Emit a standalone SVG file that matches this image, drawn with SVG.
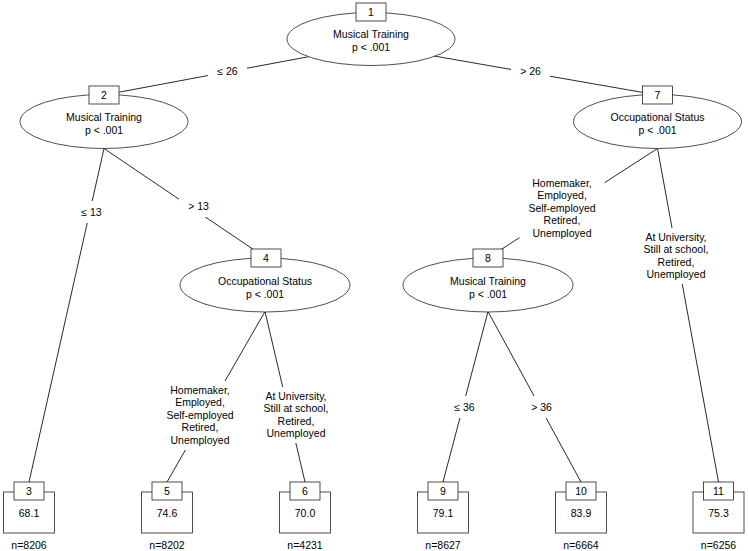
<svg xmlns="http://www.w3.org/2000/svg" width="748" height="551" viewBox="0 0 748 551">
<style>
text{font-family:"Liberation Sans",Arial,sans-serif;font-size:10.5px;fill:#000;text-anchor:middle}
.e{stroke:#111;stroke-width:0.9;fill:none}
.bg{fill:#fff;stroke:none}
.sh{fill:#fff;stroke:#222;stroke-width:0.8}
</style>
<rect width="748" height="551" fill="#fff"/>
<g id="connectors">
<line class="e" x1="371" y1="45" x2="104" y2="95"/>
<line class="e" x1="371" y1="45" x2="657.5" y2="95"/>
<line class="e" x1="104" y1="148.5" x2="29" y2="482"/>
<line class="e" x1="104" y1="148.5" x2="266" y2="258"/>
<line class="e" x1="265" y1="311.5" x2="167" y2="482"/>
<line class="e" x1="265" y1="311.5" x2="305" y2="482"/>
<line class="e" x1="657.5" y1="148.5" x2="488" y2="258"/>
<line class="e" x1="657.5" y1="148.5" x2="718.5" y2="482"/>
<line class="e" x1="488" y1="311.5" x2="443" y2="482"/>
<line class="e" x1="488" y1="311.5" x2="581" y2="482"/>
<rect class="bg" x="208" y="61" width="39" height="21"/>
<text x="227.5" y="75">≤ 26</text>
<rect class="bg" x="511" y="61" width="39" height="21"/>
<text x="530.5" y="75">&gt; 26</text>
<rect class="bg" x="72" y="201" width="39" height="22"/>
<text x="91.5" y="216">≤ 13</text>
<rect class="bg" x="179" y="195" width="39" height="22"/>
<text x="198.5" y="210">&gt; 13</text>
<rect class="bg" x="445" y="396" width="39" height="22"/>
<text x="464.5" y="411">≤ 36</text>
<rect class="bg" x="522" y="396" width="39" height="22"/>
<text x="541.5" y="411">&gt; 36</text>
<rect class="bg" x="157.5" y="381" width="85" height="69"/>
<text x="200" y="394"><tspan x="200">Homemaker,</tspan><tspan x="200" dy="12.4">Employed,</tspan><tspan x="200" dy="12.4">Self-employed</tspan><tspan x="200" dy="12.4">Retired,</tspan><tspan x="200" dy="12.4">Unemployed</tspan></text>
<rect class="bg" x="254.6" y="387" width="82.8" height="56"/>
<text x="296" y="400"><tspan x="296">At University,</tspan><tspan x="296" dy="12.4">Still at school,</tspan><tspan x="296" dy="12.4">Retired,</tspan><tspan x="296" dy="12.4">Unemployed</tspan></text>
<rect class="bg" x="519.5" y="174" width="85" height="69"/>
<text x="562" y="187"><tspan x="562">Homemaker,</tspan><tspan x="562" dy="12.4">Employed,</tspan><tspan x="562" dy="12.4">Self-employed</tspan><tspan x="562" dy="12.4">Retired,</tspan><tspan x="562" dy="12.4">Unemployed</tspan></text>
<rect class="bg" x="634.6" y="228" width="82.8" height="56"/>
<text x="676" y="241"><tspan x="676">At University,</tspan><tspan x="676" dy="12.4">Still at school,</tspan><tspan x="676" dy="12.4">Retired,</tspan><tspan x="676" dy="12.4">Unemployed</tspan></text>
</g>
<g id="node1">
<ellipse class="sh" cx="371" cy="39" rx="84" ry="26.5"/>
<rect class="sh" x="356" y="3" width="30" height="18"/>
<text x="371" y="16">1</text>
<text x="371" y="38">Musical Training</text>
<text x="371" y="51">p &lt; .001</text>
</g>
<g id="node2">
<ellipse class="sh" cx="104" cy="121.5" rx="84" ry="27"/>
<rect class="sh" x="89" y="86" width="30" height="18"/>
<text x="104" y="99">2</text>
<text x="104" y="121">Musical Training</text>
<text x="104" y="134">p &lt; .001</text>
</g>
<g id="node7">
<ellipse class="sh" cx="657.5" cy="121.5" rx="84" ry="27"/>
<rect class="sh" x="642.5" y="86" width="30" height="18"/>
<text x="657.5" y="99">7</text>
<text x="657.5" y="121">Occupational Status</text>
<text x="657.5" y="134">p &lt; .001</text>
</g>
<g id="node4">
<ellipse class="sh" cx="265" cy="285" rx="85" ry="27"/>
<rect class="sh" x="251" y="249" width="30" height="18"/>
<text x="266" y="262">4</text>
<text x="265" y="285">Occupational Status</text>
<text x="265" y="298">p &lt; .001</text>
</g>
<g id="node8">
<ellipse class="sh" cx="488" cy="285" rx="85" ry="27"/>
<rect class="sh" x="473" y="249" width="30" height="18"/>
<text x="488" y="262">8</text>
<text x="488" y="285">Musical Training</text>
<text x="488" y="298">p &lt; .001</text>
</g>
<g id="node3">
<rect class="sh" x="3.5" y="492" width="51" height="41"/>
<rect class="sh" x="14" y="482" width="30" height="18"/>
<text x="29" y="495">3</text>
<text x="29" y="517">68.1</text>
<text x="29" y="549">n=8206</text>
</g>
<g id="node5">
<rect class="sh" x="141.5" y="492" width="51" height="41"/>
<rect class="sh" x="152" y="482" width="30" height="18"/>
<text x="167" y="495">5</text>
<text x="167" y="517">74.6</text>
<text x="167" y="549">n=8202</text>
</g>
<g id="node6">
<rect class="sh" x="279.5" y="492" width="51" height="41"/>
<rect class="sh" x="290" y="482" width="30" height="18"/>
<text x="305" y="495">6</text>
<text x="305" y="517">70.0</text>
<text x="305" y="549">n=4231</text>
</g>
<g id="node9">
<rect class="sh" x="417.5" y="492" width="51" height="41"/>
<rect class="sh" x="428" y="482" width="30" height="18"/>
<text x="443" y="495">9</text>
<text x="443" y="517">79.1</text>
<text x="443" y="549">n=8627</text>
</g>
<g id="node10">
<rect class="sh" x="555.5" y="492" width="51" height="41"/>
<rect class="sh" x="566" y="482" width="30" height="18"/>
<text x="581" y="495">10</text>
<text x="581" y="517">83.9</text>
<text x="581" y="549">n=6664</text>
</g>
<g id="node11">
<rect class="sh" x="693" y="492" width="51" height="41"/>
<rect class="sh" x="703.5" y="482" width="30" height="18"/>
<text x="718.5" y="495">11</text>
<text x="718.5" y="517">75.3</text>
<text x="718.5" y="549">n=6256</text>
</g>
</svg>
